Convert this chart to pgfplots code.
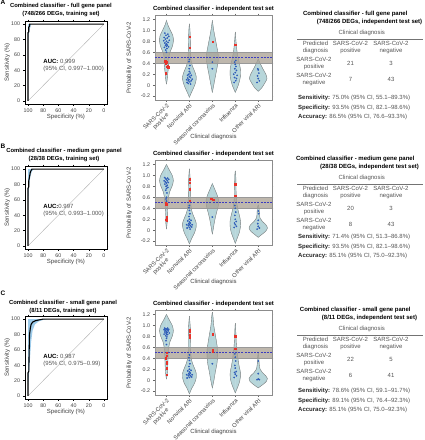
\documentclass[border=0pt]{standalone}
\usepackage{fontspec}
\setmainfont{Liberation Sans}
\usepackage{pgfplots}
\pgfplotsset{compat=1.18}
\usepackage{pgfplotstable}

\newcommand\fs{\fontsize{6}{7}\selectfont}
\newcommand\ft{\fontsize{5.3}{6}\selectfont}
\newcommand\fsb{\fontsize{6}{7}\selectfont\bfseries}
\newcommand\fsr{\fontsize{5.85}{7}\selectfont\bfseries}
\definecolor{txt}{HTML}{555555}
\definecolor{vfill}{HTML}{B7D6DA}
\definecolor{vline}{HTML}{7F7F7F}
\definecolor{band}{HTML}{A89F92}
\definecolor{bdot}{HTML}{2E5CB8}
\definecolor{rdot}{HTML}{E8322A}
\definecolor{ci}{HTML}{9DCBEA}
\definecolor{dashc}{HTML}{3C3CC0}

% ---------------- violin outlines (v = probability, w = half width) -------------
\pgfplotstableread{
v w
0.02 0
0.1 0.03
0.2 0.05
0.3 0.08
0.4 0.10
0.5 0.10
0.6 0.15
0.7 0.25
0.8 0.30
0.9 0.28
1.0 0.17
1.1 0.06
1.18 0
}\vaa
\pgfplotstableread{
v w
-0.22 0
-0.15 0.07
-0.05 0.18
0.05 0.27
0.15 0.30
0.25 0.23
0.35 0.13
0.45 0.07
0.6 0.05
0.8 0.04
1.0 0.025
1.12 0
}\vab
\pgfplotstableread{
v w
-0.13 0
0.0 0.06
0.2 0.15
0.4 0.24
0.5 0.26
0.6 0.24
0.8 0.15
1.0 0.06
1.18 0
}\vac
\pgfplotstableread{
v w
-0.13 0
0.0 0.13
0.15 0.22
0.3 0.22
0.45 0.15
0.6 0.08
0.8 0.03
0.97 0
}\vad
\pgfplotstableread{
v w
-0.11 0
-0.05 0.15
0.05 0.30
0.12 0.38
0.2 0.33
0.3 0.2
0.4 0.08
0.48 0
}\vae
\pgfplotstableread{
v w
0.02 0
0.1 0.02
0.2 0.04
0.3 0.04
0.4 0.05
0.5 0.07
0.6 0.09
0.7 0.14
0.8 0.24
0.9 0.30
1.0 0.25
1.1 0.12
1.2 0
}\vba
\pgfplotstableread{
v w
-0.25 0
-0.15 0.1
-0.05 0.22
0.05 0.29
0.12 0.30
0.2 0.24
0.3 0.14
0.4 0.08
0.55 0.05
0.75 0.04
0.95 0.03
1.12 0
}\vbb
\pgfplotstableread{
v w
-0.07 0
0.05 0.05
0.15 0.09
0.25 0.14
0.35 0.2
0.45 0.26
0.55 0.27
0.65 0.2
0.75 0.1
0.85 0
}\vbc
\pgfplotstableread{
v w
-0.24 0
-0.15 0.08
-0.05 0.17
0.05 0.22
0.15 0.23
0.25 0.19
0.35 0.13
0.45 0.08
0.6 0.04
0.8 0.03
1.0 0.02
1.08 0
}\vbd
\pgfplotstableread{
v w
-0.13 0
-0.08 0.15
-0.02 0.32
0.04 0.4
0.1 0.33
0.16 0.18
0.22 0.08
0.3 0.05
0.4 0.04
0.46 0
}\vbe
\pgfplotstableread{
v w
0.02 0
0.1 0.03
0.2 0.05
0.3 0.06
0.4 0.07
0.5 0.08
0.6 0.1
0.7 0.15
0.8 0.25
0.9 0.3
1.0 0.25
1.1 0.12
1.2 0
}\vca
\pgfplotstableread{
v w
-0.25 0
-0.15 0.1
-0.05 0.23
0.05 0.3
0.12 0.3
0.2 0.24
0.3 0.14
0.4 0.08
0.55 0.05
0.75 0.05
0.95 0.04
1.17 0
}\vcb
\pgfplotstableread{
v w
-0.14 0
0.0 0.07
0.15 0.13
0.3 0.2
0.45 0.23
0.55 0.23
0.7 0.18
0.85 0.12
1.0 0.06
1.15 0.03
1.24 0
}\vcc
\pgfplotstableread{
v w
-0.23 0
-0.15 0.08
-0.05 0.17
0.05 0.22
0.15 0.22
0.25 0.17
0.35 0.13
0.45 0.1
0.55 0.07
0.7 0.04
0.9 0.02
1.04 0
}\vcd
\pgfplotstableread{
v w
-0.14 0
-0.08 0.2
-0.02 0.36
0.03 0.4
0.08 0.33
0.14 0.18
0.2 0.08
0.3 0.04
0.4 0.03
0.5 0
}\vce

\newcommand\violin[2]{%
 \addplot[fill=vfill, draw=vfill, line width=0.3pt, smooth] table[x expr=#1+\thisrow{w}, y=v]{#2} -- cycle;
 \addplot[fill=vfill, draw=vfill, line width=0.3pt, smooth] table[x expr=#1-\thisrow{w}, y=v]{#2} -- cycle;
 \addplot[vline, line width=0.4pt, smooth] table[x expr=#1+\thisrow{w}, y=v]{#2};
 \addplot[vline, line width=0.4pt, smooth] table[x expr=#1-\thisrow{w}, y=v]{#2};
}
\newcommand\bandline{%
 \addplot[draw=black!40, line width=0.3pt, fill=band, fill opacity=0.75] coordinates {(0.5,0.4) (5.6,0.4) (5.6,0.6) (0.5,0.6)} -- cycle;
 \addplot[dashc, line width=0.6pt, dash pattern=on 2pt off 1.2pt] coordinates {(0.5,0.5) (5.6,0.5)};
}

\pgfplotsset{
 rocax/.style={scale only axis, width=82pt, height=83pt, x dir=reverse,
  xmin=-4, xmax=104, ymin=-4, ymax=104,
  xtick={0,20,40,60,80,100}, ytick={0,20,40,60,80,100},
  tick align=outside, major tick length=1.5pt,
  every tick/.style={black, line width=0.3pt},
  axis line style={black, line width=0.6pt},
  ticklabel style={font=\ft, text=black!75},
  /pgf/number format/assume math mode=true,
  xlabel={Specificity (\%)}, ylabel={Sensitivity (\%)},
  label style={font=\fs, text=black!75},
  xlabel style={at={(axis description cs:0.5,-0.153)}, anchor=center},
  ylabel style={at={(axis description cs:-0.216,0.5)}, anchor=center},
  axis on top},
 vax/.style={scale only axis, width=117pt, height=85pt,
  xmin=0.5, xmax=5.6, ymin=-0.27, ymax=1.28,
  xtick={1,2,3,4,5},
  xticklabels={{SARS-CoV-2\\positive},Nonviral ARI,Seasonal coronavirus,Influenza,Other viral ARI},
  xticklabel style={rotate=45, anchor=north east, align=center, font=\fontsize{5.8}{6.5}\selectfont, text=black!75, inner sep=1pt},
  ytick={-0.2,0,0.2,0.4,0.6,0.8,1.0,1.2},
  yticklabels={-0.2,0,0.2,0.4,0.6,0.8,1.0,1.2},
  yticklabel style={font=\ft, text=black!75},
  tick align=outside, major tick length=1.5pt,
  every tick/.style={black!60, line width=0.3pt},
  axis line style={black!45, line width=0.4pt},
  xlabel={Clinical diagnosis}, ylabel={Probability of SARS-CoV-2},
  label style={font=\fs, text=black!75},
  xlabel style={at={(axis description cs:0.5,-0.435)}, anchor=center},
  ylabel style={at={(axis description cs:-0.22,0.5)}, anchor=center}},
 bdots/.style={only marks, mark=*, mark size=0.65pt, bdot},
 rdots/.style={only marks, mark=square*, mark size=0.65pt, rdot}
}

\newcommand\tpanel[9]{% #1 offset, #2 title1, #3 title2, #4 a, #5 b, #6 c, #7 d, #8 stats offset, #9 stats
 \begin{scope}[yshift=-#1pt]
 \node[font=\fsb] at (355.3pt,-14pt) {#2};
 \node[font=\fsb] at (369.5pt,-22.3pt) {#3};
 \node[font=\fs, text=txt] at (361.7pt,-33.3pt) {Clinical diagnosis};
 \draw[black!55, line width=0.4pt] (297pt,-39.3pt) -- (423pt,-39.3pt);
 \node[font=\fs, text=txt, align=center] at (315.5pt,-47.5pt) {Predicted\\diagnosis};
 \node[font=\fs, text=txt, align=center] at (350.5pt,-47.5pt) {SARS-CoV-2\\positive};
 \node[font=\fs, text=txt, align=center] at (391pt,-47.5pt) {SARS-CoV-2\\negative};
 \node[font=\fs, text=txt, align=center] at (314pt,-63.5pt) {SARS-CoV-2\\positive};
 \node[font=\fs, text=txt, align=center] at (314pt,-79.5pt) {SARS-CoV-2\\negative};
 \node[font=\fs, text=txt] at (350.5pt,-63.5pt) {#4};
 \node[font=\fs, text=txt] at (391pt,-63.5pt) {#5};
 \node[font=\fs, text=txt] at (350.5pt,-79.5pt) {#6};
 \node[font=\fs, text=txt] at (391pt,-79.5pt) {#7};
 \begin{scope}[yshift=#8pt]
 #9
 \end{scope}
 \end{scope}
}
\newcommand\statline[3]{\node[font=\fs, text=txt, anchor=west, inner sep=0pt] at (298pt,-#1pt) {{\bfseries\color{black!85}#2:} #3};}

\begin{document}
\begin{tikzpicture}
\path[use as bounding box] (0,0) rectangle (424pt,-440pt);

% ===== panel letters =====
\node[font=\fontsize{6.5}{7}\selectfont\bfseries, anchor=west, inner sep=0pt] at (0.5pt,-2.5pt) {A};
\node[font=\fontsize{6.5}{7}\selectfont\bfseries, anchor=west, inner sep=0pt] at (0.5pt,-146.5pt) {B};
\node[font=\fontsize{6.5}{7}\selectfont\bfseries, anchor=west, inner sep=0pt] at (0.5pt,-293pt) {C};

% ===== ROC titles =====
\node[font=\fsr] at (61pt,-5.5pt) {Combined classifier - full gene panel};
\node[font=\fsr] at (61pt,-13.5pt) {(748/266 DEGs, training set)};
\node[font=\fsr] at (64pt,-151pt) {Combined classifier - medium gene panel};
\node[font=\fsr] at (64pt,-159pt) {(28/38 DEGs, training set)};
\node[font=\fsr] at (63pt,-302.5pt) {Combined classifier - small gene panel};
\node[font=\fsr] at (63pt,-310.5pt) {(8/11 DEGs, training set)};

% ===== violin titles =====
\node[font=\fsb] at (213.5pt,-9.3pt) {Combined classifier - independent test set};
\node[font=\fsb] at (213.5pt,-154.3pt) {Combined classifier - independent test set};
\node[font=\fsb] at (213.5pt,-303.8pt) {Combined classifier - independent test set};

% ===== ROC A =====
\begin{axis}[rocax, at={(25pt,-104pt)}, anchor=south west]
\addplot[draw=none, fill=ci] coordinates {(100,0) (100,100) (96,100) (97,96) (99,88) (100,75)} -- cycle;
\addplot[black!30, line width=0.4pt] coordinates {(100,0) (0,100)};
\addplot[black, line width=1.1pt] coordinates {(100,0) (100,89) (99,90) (99,96) (98,97) (98,100) (0,100)};
\node[anchor=west, font=\fs, align=left, text=txt, inner sep=0pt] at (axis cs:80,46) {{\bfseries\color{black}AUC:} 0.999\\(95\% CI, 0.997--1.000)};
\end{axis}

% ===== ROC B =====
\begin{axis}[rocax, at={(25pt,-249pt)}, anchor=south west]
\addplot[draw=none, fill=ci] coordinates {(100,0) (100,100) (92,100) (95,97) (97,90) (99,75) (100,50)} -- cycle;
\addplot[black!30, line width=0.4pt] coordinates {(100,0) (0,100)};
\addplot[black, line width=1.1pt] coordinates {(100,0) (100,75) (99,77) (99,85) (98,90) (97,96) (96,98) (95,100) (0,100)};
\node[anchor=west, font=\fs, align=left, text=txt, inner sep=0pt] at (axis cs:80,46) {{\bfseries\color{black}AUC:}0.997\\(95\% CI, 0.993--1.000)};
\end{axis}

% ===== ROC C =====
\begin{axis}[rocax, at={(25pt,-399pt)}, anchor=south west]
\addplot[draw=none, fill=ci] coordinates {(100,0) (100,100) (75,100) (80,99) (86,97) (91,93) (94,85) (96,70) (98,40) (100,10)} -- cycle;
\addplot[black!30, line width=0.4pt] coordinates {(100,0) (0,100)};
\addplot[black, line width=1.1pt] coordinates {(100,0) (100,30) (99,32) (98.5,60) (98,80) (97,88) (96,93) (94,96) (90,98) (85,99) (80,100) (0,100)};
\node[anchor=west, font=\fs, align=left, text=txt, inner sep=0pt] at (axis cs:80,46) {{\bfseries\color{black}AUC:} 0.987\\(95\% CI, 0.975--0.99)};
\end{axis}

% ===== Violin A =====
\begin{axis}[vax, at={(155pt,-100pt)}, anchor=south west]
\violin{1}{\vaa}
\violin{2}{\vab}
\violin{3}{\vac}
\violin{4}{\vad}
\violin{5}{\vae}
\bandline
\addplot[bdots] coordinates {(0.93,0.95) (1.06,0.93) (0.98,0.91) (1.1,0.89) (0.9,0.87) (1.03,0.86) (0.95,0.84) (1.12,0.82) (0.88,0.81) (1.0,0.80) (1.07,0.78) (0.93,0.77) (1.0,0.75) (1.04,0.73) (0.96,0.73) (1.0,0.71) (1.09,0.7) (0.91,0.69) (1.02,0.67) (0.97,0.64) (1.0,0.60)
 (1.9,0.05) (1.95,0.03) (2.02,0.06) (2.08,0.08) (1.88,0.1) (1.98,0.1) (2.12,0.11) (1.93,0.13) (2.04,0.14) (2.0,0.16) (1.92,0.18) (2.08,0.18) (1.97,0.2) (2.03,0.22) (2.0,0.25) (1.99,0.3) (2.02,0.36) (1.98,0.43) (2.0,0.47) (1.95,0.08) (2.05,0.02)
 (3.0,0.42) (3.0,0.3)
 (3.95,0.05) (4.02,0.08) (4.05,0.12) (3.97,0.14) (4.08,0.18) (3.93,0.2) (4.0,0.23) (4.05,0.27) (3.98,0.3) (4.03,0.34) (4.0,0.38) (3.97,0.42) (4.02,0.45)
 (4.95,0.05) (5.05,0.08) (5.0,0.12) (4.97,0.17) (5.03,0.22) (5.0,0.28) (4.98,0.3)};
\addplot[rdots] coordinates {(0.95,0.44) (1.02,0.42) (0.98,0.4) (1.05,0.35) (1.0,0.34) (1.08,0.33) (0.97,0.22) (2.0,0.88) (2.0,0.69) (3.0,0.79) (4.0,0.74)};
\end{axis}

% ===== Violin B =====
\begin{axis}[vax, at={(155pt,-245pt)}, anchor=south west]
\violin{1}{\vba}
\violin{2}{\vbb}
\violin{3}{\vbc}
\violin{4}{\vbd}
\violin{5}{\vbe}
\bandline
\addplot[bdots] coordinates {(0.92,0.96) (1.05,0.95) (0.97,0.94) (1.1,0.93) (1.0,0.92) (0.9,0.9) (1.04,0.9) (0.95,0.88) (1.08,0.87) (1.0,0.86) (0.93,0.84) (1.03,0.82) (0.98,0.8) (1.06,0.78) (1.0,0.76) (0.97,0.73) (1.02,0.68) (1.0,0.6) (0.98,0.57) (1.0,0.53)
 (1.9,0.04) (2.0,0.05) (2.1,0.06) (1.95,0.08) (2.05,0.08) (1.88,0.1) (2.0,0.1) (2.12,0.1) (1.97,0.12) (2.04,0.13) (2.0,0.15) (1.93,0.17) (2.07,0.18) (2.0,0.2) (1.98,0.25) (2.02,0.3) (2.0,0.36) (1.98,0.41) (2.0,0.45) (2.03,0.02)
 (3.0,0.24)
 (3.95,0.05) (4.05,0.07) (4.0,0.1) (3.97,0.13) (4.04,0.16) (4.0,0.2) (3.98,0.27) (4.02,0.33) (4.0,0.4) (3.98,0.45)
 (4.95,0.02) (5.05,0.04) (5.0,0.07) (4.98,0.12) (5.0,0.18) (5.02,0.3) (5.0,0.35)};
\addplot[rdots] coordinates {(0.98,0.5) (1.02,0.48) (1.0,0.46) (0.97,0.47) (1.0,0.25) (1.02,0.22) (0.98,0.19) (1.0,0.17) (2.0,0.93) (2.0,0.86) (2.0,0.75) (2.0,0.54) (2.95,0.57) (3.05,0.56) (3.0,0.55) (4.0,0.84) (4.0,0.63)};
\end{axis}

% ===== Violin C =====
\begin{axis}[vax, at={(155pt,-395pt)}, anchor=south west]
\violin{1}{\vca}
\violin{2}{\vcb}
\violin{3}{\vcc}
\violin{4}{\vcd}
\violin{5}{\vce}
\bandline
\addplot[bdots] coordinates {(0.92,0.95) (1.05,0.95) (0.97,0.94) (1.1,0.93) (1.0,0.93) (0.9,0.92) (1.04,0.92) (0.95,0.91) (1.08,0.9) (1.0,0.89) (0.93,0.88) (1.03,0.87) (0.98,0.86) (1.12,0.86) (1.0,0.84) (0.9,0.84) (1.05,0.83) (0.97,0.81) (1.02,0.79) (1.0,0.76) (0.98,0.72) (1.0,0.65)
 (1.9,0.04) (2.0,0.05) (2.1,0.06) (1.95,0.08) (2.05,0.08) (1.88,0.1) (2.0,0.1) (2.12,0.1) (1.97,0.12) (2.04,0.13) (2.0,0.15) (1.93,0.17) (2.07,0.18) (2.0,0.2) (1.98,0.25) (2.02,0.3) (2.0,0.36) (1.98,0.41) (2.0,0.46)
 (3.0,0.3)
 (3.95,0.05) (4.05,0.08) (4.0,0.11) (3.97,0.14) (4.04,0.16) (4.0,0.22) (3.98,0.27) (4.02,0.35) (4.0,0.42) (3.98,0.48)
 (5.0,0.35) (5.0,0.12) (4.95,0.01) (5.05,0.01) (5.0,0.02)};
\addplot[rdots] coordinates {(1.0,0.5) (1.0,0.45) (0.98,0.4) (1.0,0.33) (1.02,0.3) (1.0,0.22) (1.0,0.1) (2.0,0.92) (2.0,0.88) (2.0,0.82) (2.0,0.77) (3.0,0.84) (3.0,0.55) (3.0,0.53) (4.0,0.8) (4.0,0.57)};
\end{axis}

% ===== Tables =====
\tpanel{0}{Combined classifier - full gene panel}{(748/266 DEGs, independent test set)}{21}{3}{7}{43}{0}{%
 \statline{98.3}{Sensitivity}{75.0\% (95\% CI, 55.1--89.3\%)}
 \statline{107.6}{Specificity}{93.5\% (95\% CI, 82.1--98.6\%)}
 \statline{116.9}{Accuracy}{86.5\% (95\% CI, 76.6--93.3\%)}}
\tpanel{145}{Combined classifier - medium gene panel}{(28/38 DEGs, independent test set)}{20}{3}{8}{43}{6}{%
 \statline{98.3}{Sensitivity}{71.4\% (95\% CI, 51.3--86.8\%)}
 \statline{107.6}{Specificity}{93.5\% (95\% CI, 82.1--98.6\%)}
 \statline{116.9}{Accuracy}{85.1\% (95\% CI, 75.0--92.3\%)}}
\tpanel{296}{Combined classifier - small gene panel}{(8/11 DEGs, independent test set)}{22}{5}{6}{41}{3}{%
 \statline{98.3}{Sensitivity}{78.6\% (95\% CI, 59.1--91.7\%)}
 \statline{107.6}{Specificity}{89.1\% (95\% CI, 76.4--92.3\%)}
 \statline{116.9}{Accuracy}{85.1\% (95\% CI, 75.0--92.3\%)}}

\end{tikzpicture}
\end{document}
